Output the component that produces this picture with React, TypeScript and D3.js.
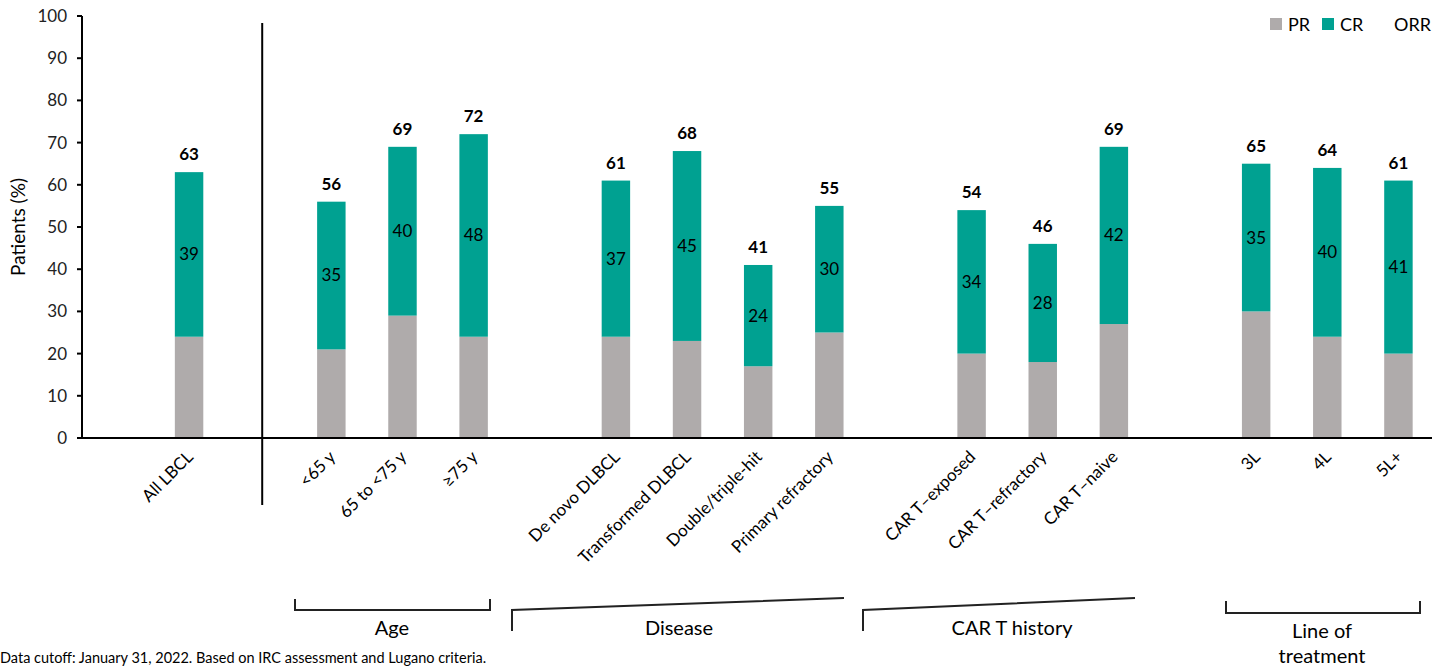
import React, { useEffect } from "react";
import * as d3 from "d3";

// categories ("" = spacer slot between groups)
const categories = [
  "All LBCL", "",
  "<65 y", "65 to <75 y", "≥75 y", "",
  "De novo DLBCL", "Transformed DLBCL", "Double/triple-hit", "Primary refractory", "",
  "CAR T\u2013exposed", "CAR T\u2013refractory", "CAR T\u2013naive", "",
  "3L", "4L", "5L+",
];
const orr = [63, null, 56, 69, 72, null, 61, 68, 41, 55, null, 54, 46, 69, null, 65, 64, 61];
const cr = [39, null, 35, 40, 48, null, 37, 45, 24, 30, null, 34, 28, 42, null, 35, 40, 41];
const yTicks = [0, 10, 20, 30, 40, 50, 60, 70, 80, 90, 100];

const PR_COLOR = "#AFABAB";
const CR_COLOR = "#00A191";
const FONT = "Lato, 'Open Sans', sans-serif";

const W = 1435, H = 667;

export default function App() {
  useEffect(() => {
    document.body.style.margin = "0";
  }, []);

  const x = d3.scaleBand()
    .domain(categories.map((c, i) => String(i)))
    .range([153.5, 1434])
    .paddingInner(0.6)
    .paddingOuter(0.3);
  const y = d3.scaleLinear().domain([0, 100]).range([438, 16]);

  const rows = categories
    .map((c, i) => ({ c, i, orr: orr[i], cr: cr[i] }))
    .filter(d => d.orr != null);

  const cx = (i) => x(String(i)) + x.bandwidth() / 2;
  const sepX = cx(1) + 2;

  return (
    <svg width={W} height={H} style={{ display: "block", fontFamily: FONT }}>
      {/* y axis */}
      <line x1={82} x2={82} y1={y(100)} y2={y(0)} stroke="#000" strokeWidth={2} />
      {yTicks.map(t => (
        <g key={t}>
          <line x1={77} x2={82} y1={y(t)} y2={y(t)} stroke="#000" strokeWidth={2} />
          <text x={67} y={y(t)} dy="0.35em" textAnchor="end" fontSize={17} fill="#222">{t}</text>
        </g>
      ))}
      <text transform={`translate(25,${y(50)}) rotate(-90)`} textAnchor="middle" fontSize={19} fill="#000">Patients (%)</text>

      {/* bars */}
      {rows.map(d => {
        const pr = d.orr - d.cr;
        return (
          <g key={d.i}>
            <rect x={x(String(d.i))} width={x.bandwidth()} y={y(pr)} height={y(0) - y(pr)} fill={PR_COLOR} />
            <rect x={x(String(d.i))} width={x.bandwidth()} y={y(d.orr)} height={y(pr) - y(d.orr)} fill={CR_COLOR} />
            <text x={cx(d.i)} y={(y(pr) + y(d.orr)) / 2} dy="0.35em" textAnchor="middle" fontSize={17} fill="#000">{d.cr}</text>
            <text x={cx(d.i)} y={y(d.orr) - 12} textAnchor="middle" fontSize={17} fontWeight="bold" fill="#000">{d.orr}</text>
          </g>
        );
      })}

      {/* baseline and separator */}
      <line x1={77} x2={1432} y1={y(0)} y2={y(0)} stroke="#000" strokeWidth={2} />
      <line x1={sepX} x2={sepX} y1={23} y2={505} stroke="#000" strokeWidth={2} />

      {/* x labels */}
      {rows.map(d => (
        <text key={d.i} transform={`translate(${cx(d.i) + 5},${458}) rotate(-45)`} textAnchor="end" fontSize={17} fill="#000">{d.c}</text>
      ))}

      {/* legend */}
      <rect x={1270} y={18} width={12} height={12} fill={PR_COLOR} />
      <text x={1288} y={31} fontSize={18} fill="#000">PR</text>
      <rect x={1322} y={18} width={12} height={12} fill={CR_COLOR} />
      <text x={1340} y={31} fontSize={18} fill="#000">CR</text>
      <text x={1394} y={31} fontSize={18} fill="#000">ORR</text>

      {/* group brackets */}
      <path d={`M295,599 V610 H490 V599`} fill="none" stroke="#222" strokeWidth={2} />
      <text x={392} y={635} textAnchor="middle" fontSize={20}>Age</text>

      <path d={`M512,631 V610 L844,598`} fill="none" stroke="#222" strokeWidth={2} />
      <text x={679} y={635} textAnchor="middle" fontSize={20}>Disease</text>

      <path d={`M863,631 V610 L1135,598`} fill="none" stroke="#222" strokeWidth={2} />
      <text x={1012} y={635} textAnchor="middle" fontSize={20}>CAR T history</text>

      <path d={`M1226,601 V613 H1420 V601`} fill="none" stroke="#222" strokeWidth={2} />
      <text x={1322} y={638} textAnchor="middle" fontSize={20}>Line of</text>
      <text x={1322} y={663} textAnchor="middle" fontSize={20}>treatment</text>

      <text x={0} y={663} fontSize={14.5} fill="#000">Data cutoff: January 31, 2022. Based on IRC assessment and Lugano criteria.</text>
    </svg>
  );
}
